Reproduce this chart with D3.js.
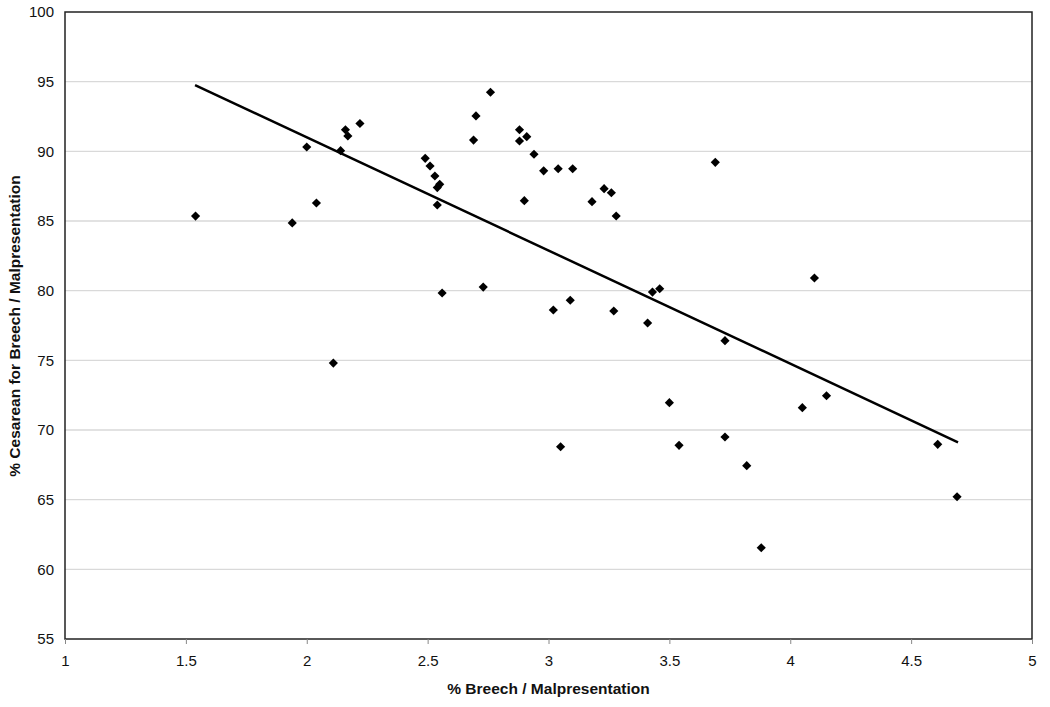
<!DOCTYPE html>
<html><head><meta charset="utf-8">
<script src="https://cdn.jsdelivr.net/npm/d3@7"></script>
<style>body{margin:0;background:#fff}svg{display:block}text{font-family:"Liberation Sans",Arial,sans-serif}</style>
</head><body><svg id="c" width="1050" height="707"></svg>
<script>
const breech = [1.54,1.94,2.00,2.04,2.11,2.14,2.16,2.17,2.22,2.49,2.51,2.53,2.54,2.55,2.54,2.56,2.69,2.70,2.76,2.73,2.88,2.88,2.91,2.94,2.98,3.04,3.10,2.90,3.18,3.23,3.26,3.28,3.02,3.09,3.27,3.41,3.43,3.46,3.73,3.69,4.10,3.50,3.05,3.54,3.73,3.82,3.88,4.05,4.15,4.61,4.69];
const cesarean = [85.35,84.86,90.31,86.29,74.8,90.05,91.55,91.1,92.0,89.5,88.95,88.23,87.4,87.63,86.15,79.83,90.81,92.54,94.24,80.26,91.55,90.74,91.05,89.79,88.6,88.75,88.75,86.46,86.39,87.32,87.03,85.36,78.61,79.31,78.54,77.68,79.9,80.14,76.41,89.21,80.91,71.96,68.8,68.9,69.5,67.44,61.55,71.6,72.46,68.97,65.21];
const trendX = [1.538, 4.694];
const trendY = [94.76, 69.12];
const xTicks = [1,1.5,2,2.5,3,3.5,4,4.5,5];
const yTicks = [55,60,65,70,75,80,85,90,95,100];

const svg = d3.select("#c");
const L=65, R=1032, T=12, B=639;
const x = d3.scaleLinear().domain([1,5]).range([L,R]);
const y = d3.scaleLinear().domain([55,100]).range([B,T]);

// grid
svg.append("g").selectAll("line").data(yTicks.filter(v=>v>55&&v<100)).join("line")
  .attr("x1",L).attr("x2",R).attr("y1",d=>y(d)).attr("y2",d=>y(d))
  .attr("stroke","#d9d9d9").attr("stroke-width",1.3);

// frame
svg.append("rect").attr("x",L).attr("y",T).attr("width",R-L).attr("height",B-T)
  .attr("fill","none").attr("stroke","#222").attr("stroke-width",1.5);

// x axis
const xa = svg.append("g").attr("transform",`translate(0,${B})`)
  .call(d3.axisBottom(x).tickValues(xTicks).tickSize(5).tickPadding(11).tickFormat(d3.format("")));
xa.select(".domain").remove();
xa.selectAll("line").attr("stroke","#888");
xa.selectAll("text").attr("font-size",15).attr("fill","#111").attr("font-family","'Liberation Sans',Arial,sans-serif");

// y axis
const ya = svg.append("g").attr("transform",`translate(${L},0)`)
  .call(d3.axisLeft(y).tickValues(yTicks).tickSize(0).tickPadding(11).tickFormat(d3.format("")));
ya.select(".domain").remove();
ya.selectAll("text").attr("font-size",15).attr("fill","#111").attr("font-family","'Liberation Sans',Arial,sans-serif");

// trend line
svg.append("line").attr("x1",x(trendX[0])).attr("y1",y(trendY[0]))
  .attr("x2",x(trendX[1])).attr("y2",y(trendY[1]))
  .attr("stroke","#000").attr("stroke-width",2.5);

// points
const pts = breech.map((b,i)=>[b,cesarean[i]]);
svg.append("g").selectAll("path").data(pts).join("path")
  .attr("d",d3.symbol(d3.symbolSquare, 42))
  .attr("transform",d=>`translate(${x(d[0])},${y(d[1])}) rotate(45)`)
  .attr("fill","#000");

// titles
svg.append("text").attr("x",548.5).attr("y",694).attr("text-anchor","middle")
  .attr("font-size",15.5).attr("font-weight","bold").attr("fill","#111").text("% Breech / Malpresentation");
svg.append("text").attr("transform",`translate(20,326) rotate(-90)`).attr("text-anchor","middle")
  .attr("font-size",15.5).attr("font-weight","bold").attr("fill","#111").text("% Cesarean for Breech / Malpresentation");
</script></body></html>
